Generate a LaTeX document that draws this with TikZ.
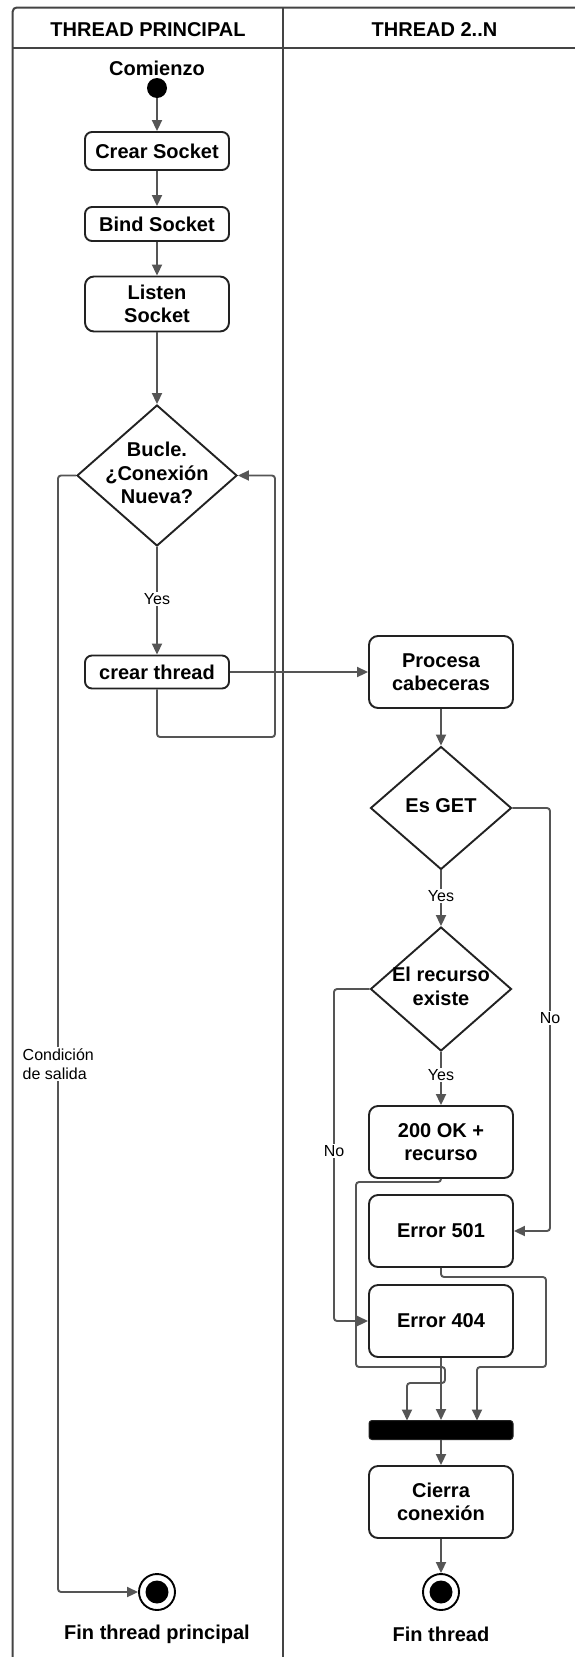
\documentclass[tikz,border=0pt]{standalone}
\usepackage{fontspec}
\setmainfont{Liberation Sans}
\usetikzlibrary{arrows.meta,shapes.geometric}

\definecolor{edgegray}{HTML}{555555}
\definecolor{ink}{HTML}{222222}
\definecolor{lanegray}{HTML}{444444}

\tikzset{
  boldtxt/.style={font=\bfseries\fontsize{20}{23.5}\selectfont},
  act/.style={draw=ink, line width=1.9pt, rounded corners=9pt, fill=white,
    minimum width=144pt, inner sep=0pt, align=center, boldtxt},
  dec/.style={draw=ink, line width=1.9pt, diamond, fill=white, inner sep=0pt},
  dectext/.style={align=center, inner sep=0pt, boldtxt},
  flow/.style={draw=edgegray, line width=1.9pt, rounded corners=3pt,
    -{Triangle[length=11pt,width=10pt]}},
  tag/.style={fill=white, inner sep=1.5pt, font=\fontsize{16}{19}\selectfont},
  lanetitle/.style={boldtxt},
  startdot/.style={circle, fill=black, minimum size=20pt, inner sep=0pt},
  enddot/.style={circle, draw=black, line width=1.9pt, fill=white,
    minimum size=36pt, inner sep=0pt,
    path picture={\fill[black] (path picture bounding box.center) circle (11.5pt);}},
  joinbar/.style={draw=ink, fill=black, rounded corners=3pt, line width=1pt,
    minimum width=144pt, minimum height=19pt, inner sep=0pt},
}

\begin{document}
\begin{tikzpicture}[x=1pt, y=-1pt]
\useasboundingbox (0,0) rectangle (575,1657);

% swimlane frame
\draw[lanegray, line width=2pt, rounded corners=4pt] (12.7,1670) -- (12.7,7.5) -- (600,7.5);
\draw[lanegray, line width=2pt] (12.7,47.5) -- (600,47.5);
\draw[lanegray, line width=1.5pt] (283,7.5) -- (283,1670);
\node[lanetitle] (lane1) at (148,30) {THREAD PRINCIPAL};
\node[lanetitle] (lane2) at (434.5,30) {THREAD 2..N};

% main thread
\node[boldtxt] (comienzo) at (157,68) {Comienzo};
\node[startdot] (start) at (157,88) {};
\node[act, minimum height=38pt, rounded corners=7pt] (crear) at (157,151) {Crear Socket};
\node[act, minimum height=34pt, rounded corners=7pt] (bind) at (157,224) {Bind Socket};
\node[act, minimum height=55pt] (listen) at (157,304) {Listen\\Socket};
\node[dec, minimum width=160pt, minimum height=141pt] (bucle) at (157,475.5) {};
\node[dectext] (bucletxt) at (157,473) {Bucle.\\¿Conexión\\Nueva?};
\node[act, minimum height=33pt, rounded corners=7pt] (cthread) at (157,672) {crear thread};
\node[enddot] (end1) at (157,1592) {};
\node[boldtxt] (fin1) at (157,1634) {Fin thread principal};

% worker thread
\node[act, minimum height=72pt] (procesa) at (441,672) {Procesa\\cabeceras};
\node[dec, minimum width=141pt, minimum height=123pt] (esget) at (441,808) {};
\node[dectext] (esgettxt) at (441,806) {Es GET};
\node[dec, minimum width=141pt, minimum height=124pt] (recurso) at (441,989) {};
\node[dectext] (recursotxt) at (441,986.5) {El recurso\\existe};
\node[act, minimum height=72pt] (ok) at (441,1142) {200 OK +\\recurso};
\node[act, minimum height=72pt] (e501) at (441,1231) {Error 501};
\node[act, minimum height=72pt] (e404) at (441,1321) {Error 404};
\node[joinbar] (bar) at (441,1430) {};
\node[act, minimum height=72pt] (cierra) at (441,1502) {Cierra\\conexión};
\node[enddot] (end2) at (441,1592) {};
\node[boldtxt] (fin2) at (441,1634) {Fin thread};

% main thread flow
\draw[flow] (start) -- (crear);
\draw[flow] (crear) -- (bind);
\draw[flow] (bind) -- (listen);
\draw[flow] (listen) -- (bucle.north);
\draw[flow] (bucle.south) -- (cthread);
\node[tag] (yes1) at (157,599) {Yes};
\draw[flow] (cthread.south) -- (157,737) -- (275,737) -- (275,475.5) -- (bucle.east);
\draw[flow] (bucle.west) -- (58,475.5) -- (58,1592) -- (end1.west);
\node[tag, anchor=west, align=left] (salida) at (21,1064) {Condición\\de salida};
\draw[flow] (cthread.east) -- (procesa.west);

% worker thread flow
\draw[flow] (procesa) -- (esget.north);
\draw[flow] (esget.south) -- (recurso.north);
\node[tag] (yes2) at (441,896) {Yes};
\draw[flow] (esget.east) -- (550,808) -- (550,1231) -- (e501.east);
\node[tag] (no1) at (550,1018) {No};
\draw[flow] (recurso.south) -- (ok.north);
\node[tag] (yes3) at (441,1075) {Yes};
\draw[flow] (recurso.west) -- (334,989) -- (334,1321) -- (e404.west);
\node[tag] (no2) at (334,1151) {No};

% merge into the join bar
\draw[flow] (ok.south) -- (441,1182) -- (356,1182) -- (356,1367) -- (445,1367)
  -- (445,1383) -- (407,1383) -- (407,1420.5);
\draw[flow] (e501.south) -- (441,1277) -- (546,1277) -- (546,1367) -- (477,1367) -- (477,1420.5);
\draw[flow] (e404.south) -- (bar.north);
\draw[flow] (bar.south) -- (cierra.north);
\draw[flow] (cierra.south) -- (end2.north);
\end{tikzpicture}
\end{document}
